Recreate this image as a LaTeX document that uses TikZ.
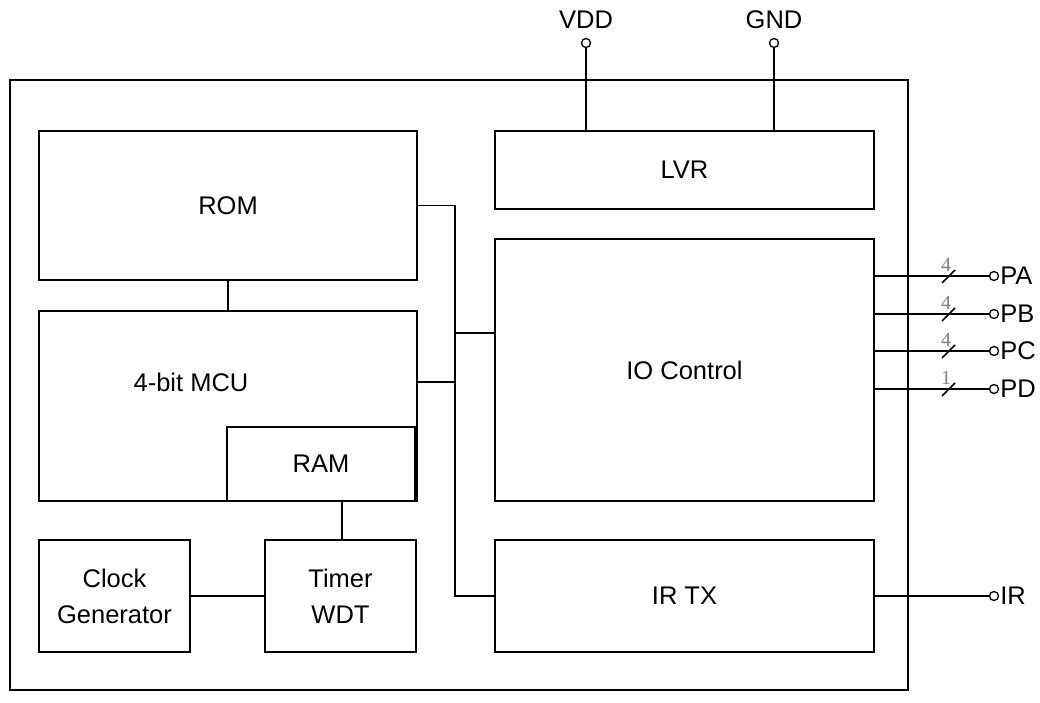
\documentclass[tikz,border=0pt]{standalone}
\usepackage{fontspec}
\setmainfont{Liberation Sans}
\newfontfamily\numfont{Liberation Serif}
\begin{document}
\begin{tikzpicture}[x=1pt,y=-1pt,
  blk/.style={draw,line width=1.6pt,inner sep=0pt,align=center,font=\fontsize{25.5}{36}\selectfont},
  pin/.style={circle,draw,line width=1.3pt,inner sep=0pt,minimum size=9pt,fill=white},
  lbl/.style={font=\fontsize{25.5}{30}\selectfont,inner sep=0pt},
  wire/.style={line width=1.7pt},
  num/.style={font=\numfont\fontsize{20}{20}\selectfont,text=gray,inner sep=0pt}]
\useasboundingbox (0,0) rectangle (1040,703);
\node[draw,line width=2.6pt,minimum width=898pt,minimum height=610pt,inner sep=0pt] (chip) at (459,385) {};
\node[blk,minimum width=378pt,minimum height=149pt] (rom) at (228,205.5) {ROM};
\node[blk,minimum width=378pt,minimum height=190pt] (mcu) at (228,406) {};
\node[lbl] (mcut) at (191,382) {4-bit MCU};
\node[blk,minimum width=188pt,minimum height=74pt] (ram) at (321,464) {RAM};
\node[blk,minimum width=151pt,minimum height=112pt] (clk) at (114.5,596) {Clock\\Generator};
\node[blk,minimum width=151pt,minimum height=112pt] (tmr) at (340.5,596) {Timer\\WDT};
\node[blk,minimum width=379pt,minimum height=78pt] (lvr) at (684.5,170) {LVR};
\node[blk,minimum width=379pt,minimum height=262pt] (io) at (684.5,370) {IO Control};
\node[blk,minimum width=379pt,minimum height=112pt] (ir) at (684.5,596) {IR TX};
% bus
\coordinate (b1) at (455,205.5);
\coordinate (b2) at (455,333);
\coordinate (b3) at (455,382);
\coordinate (b4) at (455,596);
\draw[wire] (rom.east) -- (b1) -- (b4) -- (ir.west);
\draw[wire] (b2) -- (io.west |- b2);
\draw[wire] (mcu.east |- b3) -- (b3);
\draw[wire] (rom.south) -- (mcu.north);
\coordinate (rt) at (342,501);
\draw[wire] (rt) -- (rt |- tmr.north);
\draw[wire] (clk.east) -- (tmr.west);
% power
\node[pin] (vdd) at (586,43) {};
\node[pin] (gnd) at (774,43) {};
\node[lbl,anchor=south] (vddt) at (586,29) {VDD};
\node[lbl,anchor=south] (gndt) at (774,29) {GND};
\draw[wire] (vdd) -- (vdd |- lvr.north);
\draw[wire] (gnd) -- (gnd |- lvr.north);
% ports
\foreach \n/\y/\k in {PA/276/4,PB/314/4,PC/351/4,PD/389/1}{
  \node[pin] (p\n) at (994,\y) {};
  \node[lbl,anchor=west] (t\n) at ([xshift=1pt]p\n.east) {\n};
  \draw[wire] (io.east |- p\n) -- (p\n);
  \coordinate (s\n) at (948.5,\y);
  \draw[line width=1.6pt] ([shift={(-6.5,7)}]s\n) -- ([shift={(6.5,-6)}]s\n);
  \node[num] (k\n) at (946,\y-11) {\k};
}
\node[pin] (pir) at (994,596) {};
\node[lbl,anchor=west] (tir) at ([xshift=1pt]pir.east) {IR};
\draw[wire] (ir.east) -- (pir);
\end{tikzpicture}
\end{document}
